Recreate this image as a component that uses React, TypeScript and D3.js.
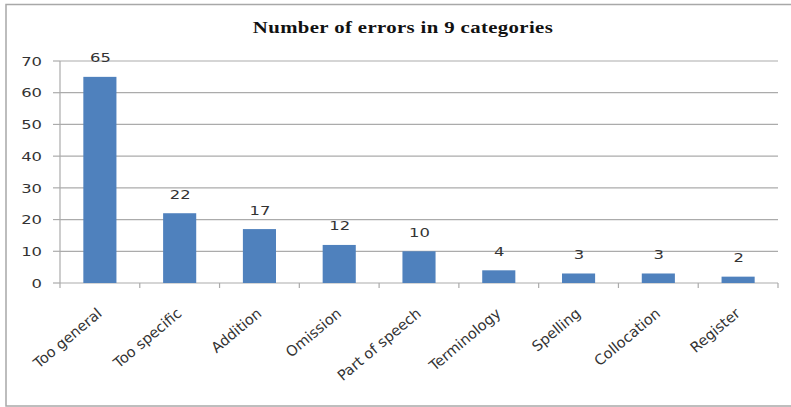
import React from "react";
import * as d3 from "d3";

const categories = [
  "Too general",
  "Too specific",
  "Addition",
  "Omission",
  "Part of speech",
  "Terminology",
  "Spelling",
  "Collocation",
  "Register",
];
const errorCounts = [65, 22, 17, 12, 10, 4, 3, 3, 2];
const yTicks = [0, 10, 20, 30, 40, 50, 60, 70];
const title = "Number of errors in 9 categories";

const W = 791;
const H = 407;
const plotLeft = 60;
const plotRight = 778;
const plotTop = 61;
const plotBottom = 283;
// the chart's text is drawn horizontally widened
const SX = 1.26;

export default function App() {
  const x = d3
    .scaleBand<string>()
    .domain(categories)
    .range([plotLeft, plotRight])
    .paddingInner(0.585)
    .paddingOuter(0.2925);
  const y = d3.scaleLinear().domain([0, 70]).range([plotBottom, plotTop]);
  const step = (plotRight - plotLeft) / categories.length;
  const sans = "'DejaVu Sans', Verdana, sans-serif";
  const grid = "#ababab";

  return (
    <svg
      width={W}
      height={H}
      style={{ position: "absolute", left: 0, top: 0, background: "#fff" }}
    >
      <rect x={6} y={4.5} width={W} height={401.5} fill="#fff" stroke="#a8a8a8" strokeWidth={1.5} />
      <text
        transform={`translate(403,32.5) scale(${SX},1)`}
        textAnchor="middle"
        fontFamily="'Liberation Serif', 'DejaVu Serif', serif"
        fontWeight="bold"
        fontSize={16.5}
        letterSpacing={0.3}
        fill="#111"
      >
        {title}
      </text>

      {/* gridlines and y ticks */}
      {yTicks.map((t) => (
        <g key={t}>
          <line x1={plotLeft} x2={plotRight} y1={y(t)} y2={y(t)} stroke={grid} strokeWidth={1.2} />
          <line x1={53} x2={plotLeft} y1={y(t)} y2={y(t)} stroke={grid} strokeWidth={1.2} />
          <text
            transform={`translate(42,${y(t)}) scale(${SX},1)`}
            dy="0.36em"
            textAnchor="end"
            fontFamily={sans}
            fontSize={13}
            fill="#333"
          >
            {t}
          </text>
        </g>
      ))}
      <line x1={plotLeft} x2={plotLeft} y1={plotTop} y2={plotBottom} stroke={grid} strokeWidth={1.2} />

      {/* category ticks */}
      {d3.range(categories.length + 1).map((i) => (
        <line
          key={i}
          x1={plotLeft + i * step}
          x2={plotLeft + i * step}
          y1={plotBottom}
          y2={plotBottom + 5}
          stroke={grid}
          strokeWidth={1.2}
        />
      ))}

      {/* bars and value labels */}
      {categories.map((c, i) => {
        const v = errorCounts[i];
        const bx = x(c) as number;
        const cx = bx + x.bandwidth() / 2;
        return (
          <g key={c}>
            <rect x={bx} y={y(v)} width={x.bandwidth()} height={plotBottom - y(v)} fill="#4F81BD" />
            <text
              transform={`translate(${cx + 0.5},${y(v) - 14.5}) scale(${SX},1)`}
              textAnchor="middle"
              fontFamily={sans}
              fontSize={13}
              fill="#333"
            >
              {v}
            </text>
          </g>
        );
      })}

      {/* category labels, slanted */}
      {categories.map((c) => {
        const cx = (x(c) as number) + x.bandwidth() / 2;
        return (
          <text
            key={c}
            transform={`translate(${cx + 3},${plotBottom + 32}) rotate(-40)`}
            textAnchor="end"
            fontFamily={sans}
            fontSize={14.5}
            fill="#333"
          >
            {c}
          </text>
        );
      })}
    </svg>
  );
}
